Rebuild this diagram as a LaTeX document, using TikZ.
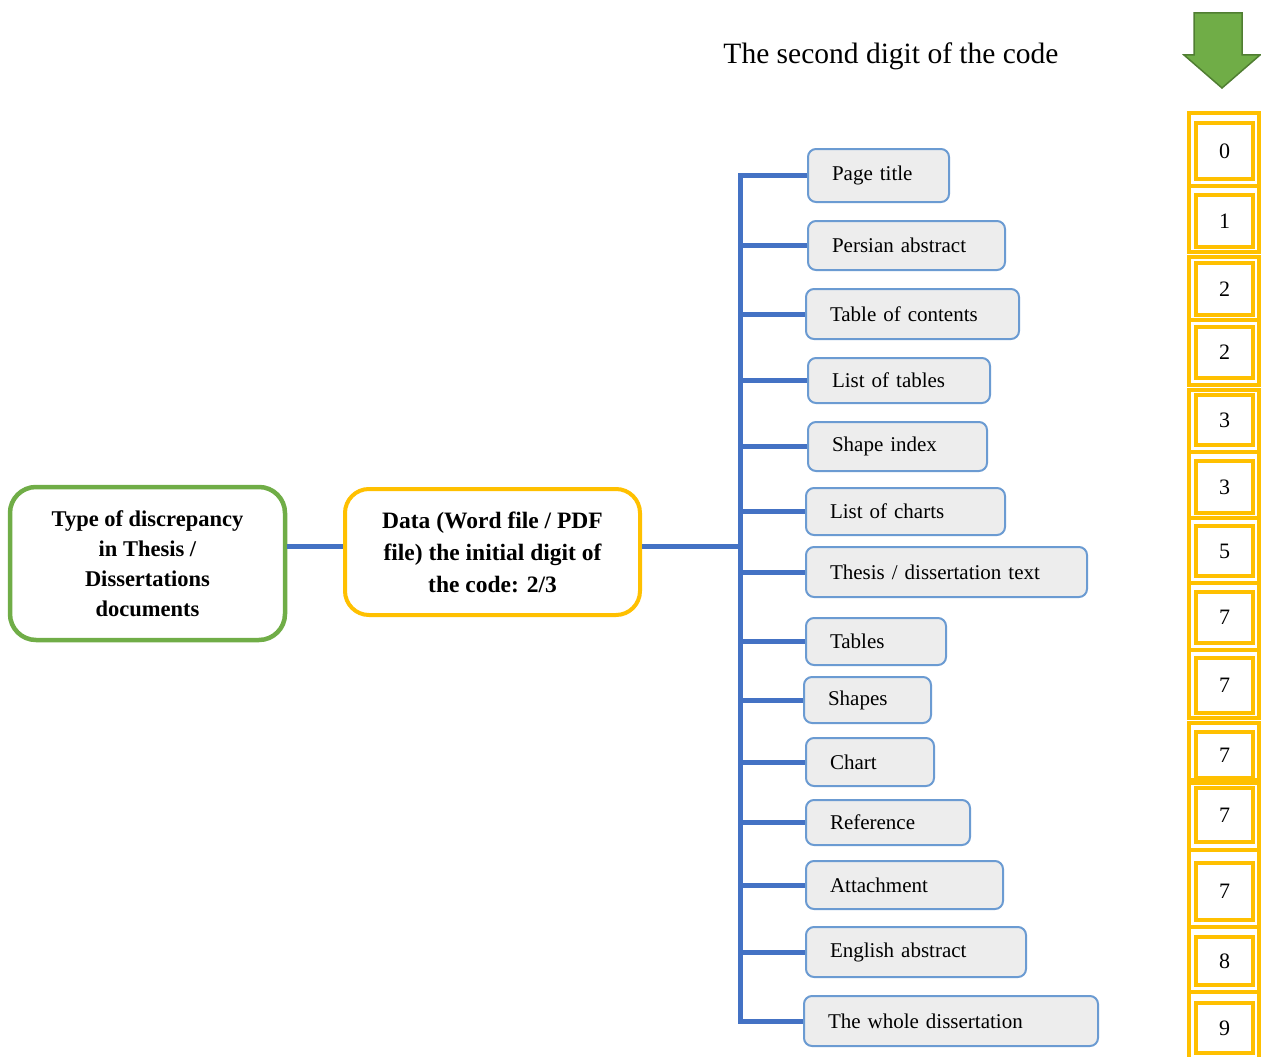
\documentclass[tikz,border=0pt]{standalone}
\usepackage{fontspec}
\setmainfont{Liberation Serif}
\definecolor{connblue}{HTML}{4472C4}
\definecolor{leafedge}{HTML}{6B9BD2}
\definecolor{leaffill}{HTML}{EDEDED}
\definecolor{gold}{HTML}{FFC000}
\definecolor{leafgreen}{HTML}{70AD47}
\definecolor{darkgreen}{HTML}{507E32}
\tikzset{
  conn/.style={draw=connblue, line width=5pt},
  leafbox/.style={draw=leafedge, fill=leaffill, line width=2pt, rounded corners=8pt,
    inner xsep=24pt, inner ysep=0pt, align=left, anchor=north west,
    font=\fontsize{21}{25}\selectfont},
  rootbox/.style={draw=leafgreen, line width=4.5pt, rounded corners=26pt, align=center,
    font=\fontsize{22.5}{30}\selectfont\bfseries},
  databox/.style={draw=gold, line width=4pt, rounded corners=24pt, align=center,
    font=\fontsize{23.5}{32}\selectfont\bfseries},
  outerbox/.style={draw=gold, line width=4pt},
  digitbox/.style={draw=gold, line width=4pt, minimum width=57pt, inner sep=0pt,
    font=\fontsize{22}{26}\selectfont},
}
\begin{document}
\begin{tikzpicture}[x=1pt, y=-1pt]
  \useasboundingbox (0,0) rectangle (1261,1057);
  \clip (0,0) rectangle (1261,1057);

  % heading and arrow
  \node[font=\fontsize{29.5}{34}\selectfont] (heading) at (891,56) {The second digit of the code};
  \draw[fill=leafgreen, draw=darkgreen, line width=1.5pt, line join=miter]
    (1194,13) -- (1242,13) -- (1242,55) -- (1260,55) -- (1222,88) -- (1184,55) -- (1194,55) -- cycle;

  % main nodes
  \node[rootbox, minimum width=275pt, minimum height=153pt] (root) at (147.5,563.5)
    {Type of discrepancy\\in Thesis /\\Dissertations\\documents};
  \node[databox, minimum width=295pt, minimum height=126pt] (data) at (492.5,552)
    {Data (Word file / PDF\\file) the initial digit of\\the code: 2/3};
  \coordinate (jy) at (0,546);
  \coordinate (trunk) at (740,546);
  \draw[conn] (root.east |- jy) -- (data.west |- jy);
  \draw[conn] (data.east |- jy) -- (trunk);

  % document parts
  \foreach \i/\l/\r/\t/\b/\txt in {
    1/807/948/148/201/{Page title},
    2/807/1004/220/269/{Persian abstract},
    3/805/1018/288/338/{Table of contents},
    4/807/989/357/402/{List of tables},
    5/807/986/421/470/{Shape index},
    6/805/1004/487/534/{List of charts},
    7/805/1086/546/596/{Thesis / dissertation text},
    8/805/945/617/664/{Tables},
    9/803/930/676/722/{Shapes},
    10/805/933/737/785/{Chart},
    11/805/969/799/844/{Reference},
    12/805/1002/860/908/{Attachment},
    13/805/1025/926/976/{English abstract},
    14/803/1097/995/1045/{The whole dissertation}}{
    \pgfmathsetmacro\tw{\r-\l-48}
    \pgfmathsetmacro\hh{\b-\t}
    \node[leafbox, text width=\tw pt, minimum height=\hh pt] (l\i) at (\l,\t) {\txt};
  }
  \draw[conn, line join=miter] (l1.west) -- (trunk |- l1.west) -- (trunk |- l14.west) -- (l14.west);
  \foreach \i in {2,...,13}{
    \draw[conn] (trunk |- l\i.west) -- (l\i.west);
  }

  % second digit column
  \foreach \t/\b in {113/186, 186/252, 257/320, 320/385, 390/452, 452/518, 518/583,
    583/650, 650/718, 723/780, 783/850, 850/927, 927/992, 992/1064}{
    \draw[outerbox] (1189,\t) rectangle (1259,\b);
  }
  \foreach \i/\t/\b/\d in {1/123/179/0, 2/195/247/1, 3/263/315/2, 4/327/378/2,
    5/395/445/3, 6/461/513/3, 7/526/576/5, 8/592/643/7, 9/658/713/7, 10/732/778/7,
    11/788/842/7, 12/863/920/7, 13/937/985/8, 14/1003/1053/9}{
    \pgfmathsetmacro\hh{\b-\t}
    \node[digitbox, minimum height=\hh pt] (d\i) at (1224.5,{(\t+\b)/2}) {\d};
  }
\end{tikzpicture}
\end{document}
